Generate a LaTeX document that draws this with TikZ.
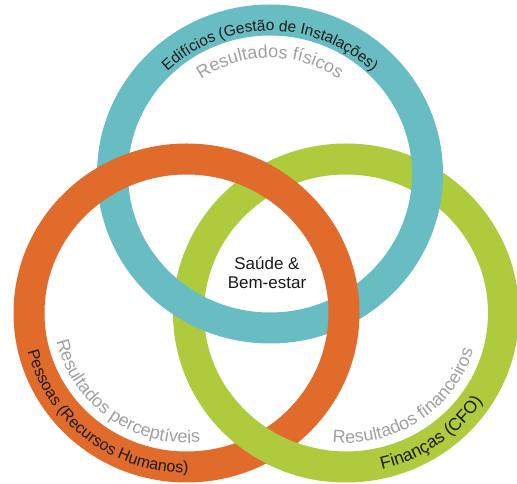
\documentclass[tikz,border=0pt]{standalone}
\usepackage{fontspec}
\setmainfont{Liberation Sans}
\usetikzlibrary{calc,decorations.text}

\definecolor{ringteal}{HTML}{67BDC1}
\definecolor{ringorange}{HTML}{E06B2B}
\definecolor{ringgreen}{HTML}{AECA3D}
\definecolor{outcomegray}{HTML}{A0A0A0}
\definecolor{labelblack}{HTML}{1A1A1A}

\newcommand{\ringlabelfont}{\fontsize{16}{16}\selectfont}
\newcommand{\outcomefont}{\fontsize{18}{18}\selectfont}

\begin{document}
\begin{tikzpicture}[x=1pt,y=1pt,
  ring/.style={line width=31pt},
  ringpath/.style={x radius=157.5, y radius=154},
  arclabel/.style={decorate, decoration={text along path, text align=center, text color=labelblack, text={|\ringlabelfont|#1}}},
  arcoutcome/.style={decorate, decoration={text along path, text align=center, text color=outcomegray, text={|\outcomefont|#1}}}
]
\useasboundingbox (0,0) rectangle (517,484);

% ring centres
\coordinate (T) at (270,310);
\coordinate (O) at (186.5,171);
\coordinate (G) at (346,171);

% rings: green under teal, teal under orange
\draw[ring, ringgreen] (G) circle[ringpath];
\draw[ring, ringteal] (T) circle[ringpath];
\draw[ring, ringorange] (O) circle[ringpath];
% the green ring passes over the orange one at their lower crossing
\draw[ring, ringgreen] ($(G)+(215:157.5 and 154)$) arc[start angle=215, end angle=262, ringpath];

% labels on the rings
\path[arclabel={|\fontsize{15.4}{15.4}\selectfont|Edifícios (Gestão de Instalações)}]
  ($(T)+(170:146.5 and 143)$) arc[start angle=170, end angle=10, x radius=146.5, y radius=143];
\path[arcoutcome={Resultados físicos}]
  ($(T)+(160:119 and 116)$) arc[start angle=160, end angle=20, x radius=119, y radius=116];

\path[arclabel={Pessoas (Recursos Humanos)}]
  ($(O)+(162:163.5 and 160)$) arc[start angle=162, end angle=302, x radius=163.5, y radius=160];
\path[arcoutcome={Resultados perceptíveis}]
  ($(O)+(164:133 and 130)$) arc[start angle=164, end angle=304, x radius=133, y radius=130];

\path[arclabel={|\fontsize{17.5}{17.5}\selectfont|Finanças (CFO)}]
  ($(G)+(245:163.5 and 160)$) arc[start angle=245, end angle=365, x radius=163.5, y radius=160];
\path[arcoutcome={Resultados financeiros}]
  ($(G)+(234:133 and 130)$) arc[start angle=234, end angle=374, x radius=133, y radius=130];

% centre
\node[font=\fontsize{17}{19.5}\selectfont, align=center, text=labelblack] (wellbeing) at (267,211) {Saúde \&\\Bem-estar};
\end{tikzpicture}
\end{document}
